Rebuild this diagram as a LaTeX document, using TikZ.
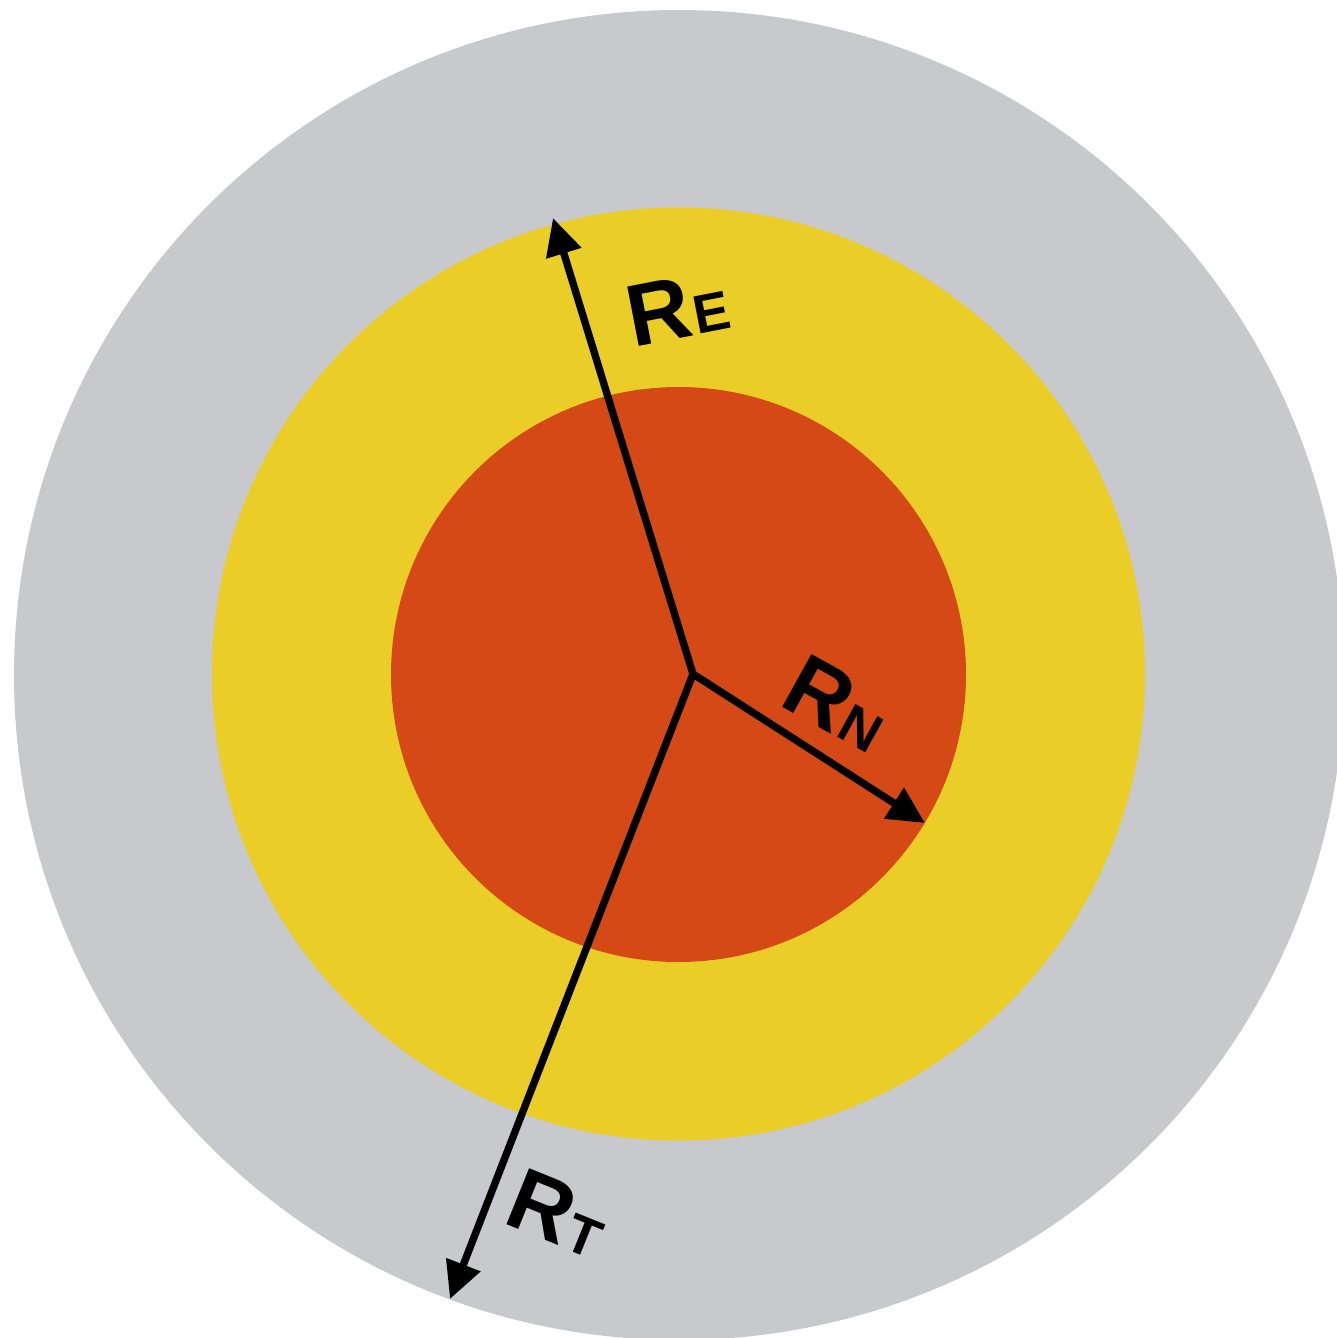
\documentclass[tikz,border=0pt]{standalone}
\usepackage{fontspec}
\setmainfont{Liberation Sans}
\usetikzlibrary{arrows.meta}
\definecolor{shellGray}{HTML}{C8C9CD}
\definecolor{envYellow}{HTML}{EBCD28}
\definecolor{coreRed}{HTML}{D44915}
\newcommand{\radlabel}[1]{{\fontsize{25}{25}\selectfont R}\kern0.5pt{\fontsize{15.5}{15.5}\selectfont #1}}
\begin{document}
\begin{tikzpicture}[every node/.style={font=\bfseries},
    radius arrow/.style={line width=2.1pt, -{Triangle[length=10.5pt, width=10pt]}}]
    \useasboundingbox (0,0) rectangle (13.37,-13.38);
    \clip (0,0) rectangle (13.37,-13.38);
    % layers
    \fill[shellGray] (6.79,-6.75) circle (6.65);
    \fill[envYellow] (6.785,-6.74) circle (4.665);
    \fill[coreRed] (6.785,-6.745) circle (2.875);
    % radii
    \coordinate (c) at (6.93,-6.74);
    \coordinate (tipE) at (5.53,-2.18);
    \coordinate (tipN) at (9.25,-8.23);
    \coordinate (tipT) at (4.50,-12.99);
    \foreach \t in {E,N,T}{
      \draw[radius arrow] (c) -- (tip\t);
    }
    \node[rotate=11] (labE) at (6.78,-3.08) {\radlabel{E}};
    \node[rotate=-29] (labN) at (8.38,-7.03) {\radlabel{N}};
    \node[rotate=-22] (labT) at (5.58,-12.13) {\radlabel{T}};
  \end{tikzpicture}
\end{document}
